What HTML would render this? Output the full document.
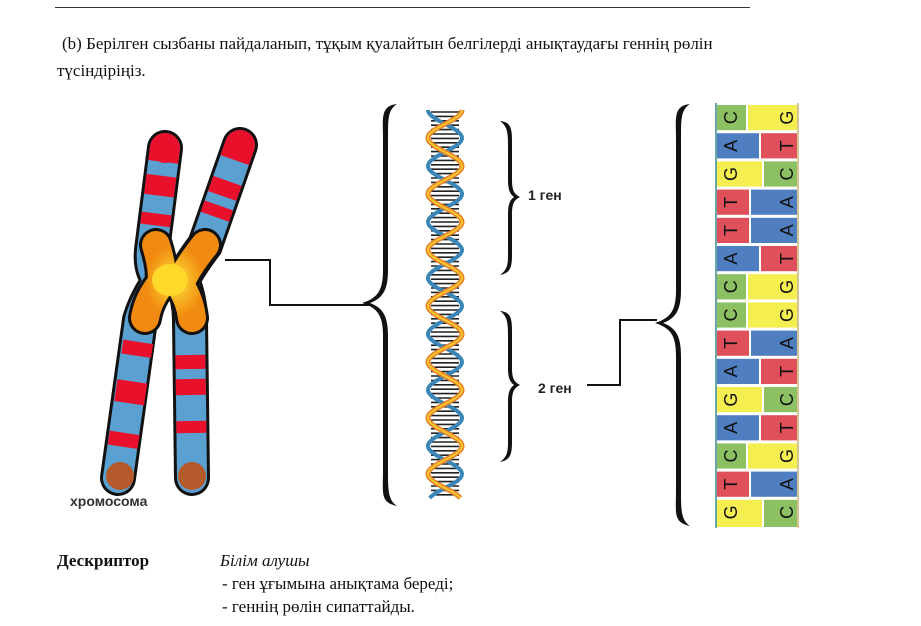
<!DOCTYPE html>
<html><head><meta charset="utf-8"><style>
body{margin:0;background:#fff;width:921px;height:626px;overflow:hidden;font-family:"Liberation Serif",serif;}
.t{position:absolute;font-size:17px;color:#111;white-space:nowrap}
</style></head><body>
<div style="position:absolute;left:55px;top:7px;width:695px;border-top:1px solid #333"></div>
<div class="t" style="left:62px;top:34px">(b) Берілген сызбаны пайдаланып, тұқым қуалайтын белгілерді анықтаудағы геннің рөлін</div>
<div class="t" style="left:57px;top:61px">түсіндіріңіз.</div>
<div class="t" style="left:57px;top:551px;font-weight:bold">Дескриптор</div>
<div class="t" style="left:220px;top:551px;font-style:italic">Білім алушы</div>
<div class="t" style="left:222px;top:574px">- ген ұғымына анықтама береді;</div>
<div class="t" style="left:222px;top:597px">- геннің рөлін сипаттайды.</div>
<svg id="sv" width="921" height="626" style="position:absolute;left:0;top:0">
<defs>
<radialGradient id="yc" cx=".5" cy=".5" r=".5"><stop offset="0" stop-color="#ffe23a"/><stop offset="1" stop-color="#f08a10"/></radialGradient>
</defs>
<g stroke-linecap="round" fill="none">
<path d="M165 148 L152 250 Q150 270 160 280 Q146 300 140 320 L118 478" stroke="#111" stroke-width="36"/>
<path d="M240 145 L205 245 Q190 265 182 280 Q190 300 190 320 L192 478" stroke="#111" stroke-width="36"/>
<path d="M165 148 L152 250 Q150 270 160 280 Q146 300 140 320 L118 478" stroke="#5aa0d0" stroke-width="30"/>
<path d="M240 145 L205 245 Q190 265 182 280 Q190 300 190 320 L192 478" stroke="#5aa0d0" stroke-width="30"/>
<circle cx="165" cy="148" r="15" fill="#e8102a" stroke="none"/><circle cx="240" cy="145" r="15" fill="#e8102a" stroke="none"/>
<g stroke="#e8102a" stroke-width="30" stroke-linecap="butt">
<path d="M165 148 L152 250" stroke-dasharray="14 14 20 18 12 100"/>
<path d="M240 145 L205 245" stroke-dasharray="16 22 16 10 12 100"/>
<path d="M140 330 L118 478" stroke-dasharray="0 12 14 26 22 30 14 100"/>
<path d="M190 330 L192 478" stroke-dasharray="0 25 14 10 16 26 12 100"/>
</g>
<path d="M156 245 Q165 275 160 285 Q148 300 145 318 M205 245 Q185 270 180 285 Q190 300 192 318" stroke="#111" stroke-width="34"/>
<path d="M156 245 Q165 275 160 285 Q148 300 145 318 M205 245 Q185 270 180 285 Q190 300 192 318" stroke="url(#yc)" stroke-width="28"/>
<ellipse cx="170" cy="280" rx="18" ry="16" fill="#ffd82a" stroke="none"/>
<circle cx="120" cy="476" r="14" fill="#b55a2a" stroke="none"/><circle cx="192" cy="476" r="14" fill="#b55a2a" stroke="none"/>
</g>
<text x="70" y="506" font-family="Liberation Sans,sans-serif" font-weight="bold" font-size="14" fill="#333">хромосома</text>
<g fill="none" stroke="#111" stroke-width="2">
<path d="M225 260 H270 V305 H370"/>
<path d="M587 385 H620 V320 H657"/>
</g>
<g fill="#111">
<path d="M397 104 C380 106 383 118 383 140 L383 270 C383 290 378 298 362 303 C378 308 383 316 383 336 L383 470 C383 494 380 502 397 506 C388 500 388 490 388 470 L388 336 C388 318 384 308 370 303 C384 298 388 288 388 270 L388 140 C388 118 388 110 397 104Z"/>
<path d="M690 104 C673 106 676 118 676 140 L676 290 C676 310 671 318 655 323 C671 328 676 336 676 356 L676 490 C676 514 673 522 690 526 C681 520 681 510 681 490 L681 356 C681 338 677 328 663 323 C677 318 681 308 681 290 L681 140 C681 118 681 110 690 104Z"/>
<path d="M500 121 C512 122 512 130 512 145 L512 180 C512 190 514 194 520 197 C514 200 512 204 512 214 L512 255 C512 268 510 273 500 275 C507 270 508 265 508 255 L508 214 C508 204 510 200 514 197 C510 194 508 190 508 180 L508 145 C508 132 507 126 500 121Z"/>
<path d="M500 311 C512 312 512 320 512 335 L512 368 C512 378 514 382 520 385 C514 388 512 392 512 402 L512 442 C512 455 510 460 500 462 C507 457 508 452 508 442 L508 402 C508 392 510 388 514 385 C510 382 508 378 508 368 L508 335 C508 322 507 316 500 311Z"/>
</g>
<text x="528" y="200" font-family="Liberation Sans,sans-serif" font-weight="bold" font-size="14" fill="#222">1 ген</text>
<text x="538" y="393" font-family="Liberation Sans,sans-serif" font-weight="bold" font-size="14" fill="#222">2 ген</text>
<g id="dna"></g>
<g id="lad"></g>
</svg>
<script>
(function(){
var dna=document.getElementById('dna'),h='';
var x0=427,x1=463,y0=110,y1=498,P=56;
for(var y=y0+2;y<y1;y+=4.4){h+='<line x1="'+(x0+4)+'" x2="'+(x1-4)+'" y1="'+y+'" y2="'+y+'" stroke="#222" stroke-width="1.6"/>';}
var a='',b='';
for(var y=y0;y<=y1;y+=1){var s=Math.cos((y-y0)/P*2*Math.PI);var xa=445+17*s,xb=445-17*s;a+=(y==y0?'M':'L')+xa+' '+y;b+=(y==y0?'M':'L')+xb+' '+y;}
h+='<path d="'+b+'" stroke="#3a86b8" stroke-width="4" fill="none"/>';
h+='<path d="'+a+'" stroke="#e8802a" stroke-width="5" fill="none"/>';
h+='<path d="'+a+'" stroke="#f5c830" stroke-width="2" fill="none"/>';
dna.innerHTML=h;
var C={A:'#4f7fc0',T:'#e0505a',G:'#f5ee50',C:'#8cc063'},comp={A:'T',T:'A',G:'C',C:'G'};
var rows=[['C',747],['A',760],['G',763],['T',750],['T',750],['A',760],['C',747],['C',747],['T',750],['A',760],['G',763],['A',760],['C',747],['T',750],['G',763]];
var g='',ty=105,rh=28.2;
rows.forEach(function(r,i){var y=ty+i*rh,L=r[0],R=comp[L],sp=r[1];
var hh=(i==14)?(527-y):(rh-3);
g+='<rect x="717" y="'+y+'" width="'+(sp-717-1)+'" height="'+hh+'" fill="'+C[L]+'"/>';
g+='<rect x="'+(sp+1)+'" y="'+y+'" width="'+(797-sp-1)+'" height="'+hh+'" fill="'+C[R]+'"/>';
var cy=y+(rh-3)/2;
g+='<text x="731" y="'+cy+'" transform="rotate(-90 731 '+cy+')" text-anchor="middle" dominant-baseline="central" font-family="Liberation Sans,sans-serif" font-size="18" fill="#111">'+L+'</text>';
g+='<text x="787" y="'+cy+'" transform="rotate(-90 787 '+cy+')" text-anchor="middle" dominant-baseline="central" font-family="Liberation Sans,sans-serif" font-size="18" fill="#111">'+R+'</text>';
});
g+='<line x1="716" y1="103" x2="716" y2="528" stroke="#3a8a8a" stroke-width="1.5"/><line x1="798" y1="103" x2="798" y2="528" stroke="#c8b070" stroke-width="1.5"/>';
document.getElementById('lad').innerHTML=g;
})();
</script>
</body></html>
